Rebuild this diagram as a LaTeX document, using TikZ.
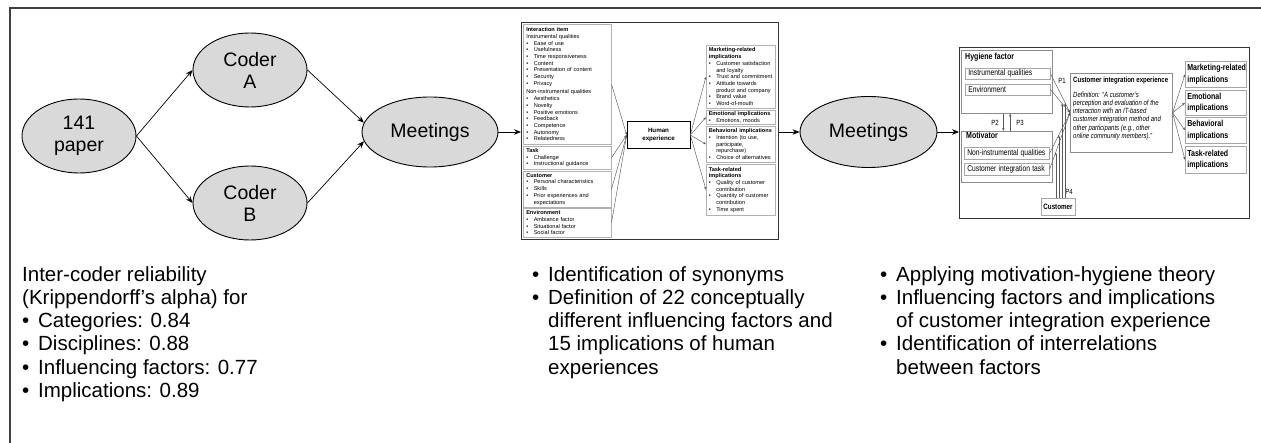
\documentclass[tikz,border=0pt]{standalone}
\usepackage{fontspec}
\usepackage{graphicx}
\setmainfont{Liberation Sans}
\usetikzlibrary{arrows.meta,shapes.geometric}

% bullets for the large captions and for the small boxes
\newcommand{\bulB}{\makebox[16pt][l]{\textbullet}}
\newcommand{\contB}{\hspace*{16pt}}
\newcommand{\bulS}{\makebox[7.5pt][l]{\textbullet}}
\newcommand{\contS}{\hspace*{7.5pt}}
% condensed lettering for the model on the right
\newcommand{\nar}[1]{\scalebox{0.8}[1]{#1}}

\tikzset{
  frameline/.style={draw=black!75, line width=1.1},
  blob/.style={ellipse, draw=black, line width=0.9, fill=black!15, align=center,
    inner sep=0, font=\fontsize{19.5}{22}\selectfont},
  flow/.style={draw=black, line width=0.7, -{Stealth[length=7,width=5.5]}},
  caption/.style={anchor=north west, inner sep=0, align=left,
    font=\fontsize{20.5}{23.3}\selectfont},
  panel/.style={draw=black!80, line width=1, anchor=north west, inner sep=0},
  smallbox/.style={draw=black!30, line width=0.5, anchor=north west, inner xsep=3,
    inner ysep=1, align=left, font=\fontsize{5.6}{6.7}\selectfont},
  tiny/.style={draw=black!65, line width=0.45, -{Stealth[length=3,width=2.4]}},
  groupbox/.style={draw=black!45, line width=0.6, anchor=north west, inner sep=0},
  factor/.style={draw=black!35, line width=0.6, anchor=north west, inner xsep=3,
    inner ysep=0, align=left, font=\fontsize{8.4}{10}\selectfont},
  grouptitle/.style={anchor=base west, inner sep=0,
    font=\bfseries\fontsize{8.8}{10}\selectfont},
  implbox/.style={draw=black!35, line width=0.6, anchor=north west, inner xsep=2,
    inner ysep=0, align=left, font=\bfseries\fontsize{8.8}{11.6}\selectfont},
  plabel/.style={inner sep=0, font=\fontsize{7.5}{8}\selectfont},
}

\begin{document}
\begin{tikzpicture}[x=1pt, y=-1pt]
\useasboundingbox (0,0) rectangle (1261,443);

% open frame along the top and left
\draw[frameline] (1261,8) -- (10,8) -- (10,443);

% ---------- coding process ----------
\node[blob, minimum width=114, minimum height=74] (paper) at (79,136) {141\\paper};
\node[blob, minimum width=114, minimum height=74] (coderA) at (250,70) {Coder\\A};
\node[blob, minimum width=114, minimum height=74] (coderB) at (250,203) {Coder\\B};
\node[blob, minimum width=136, minimum height=70] (meet1) at (430,132) {Meetings};

\draw[flow] (paper.east) -- (coderA.west);
\draw[flow] (paper.east) -- (coderB.west);
\draw[flow] (coderA.east) -- (meet1.172);
\draw[flow] (coderB.east) -- (meet1.188);

% ---------- human experience framework ----------
\node[panel, minimum width=257, minimum height=217] (mid) at (521,22) {};

\node[smallbox, text width=82, minimum height=120] (inter) at (523,24) {%
\textbf{Interaction item}\\
Instrumental qualities\\
\bulS Ease of use\\
\bulS Usefulness\\
\bulS Time responsiveness\\
\bulS Content\\
\bulS Presentation of content\\
\bulS Security\\
\bulS Privacy\\[2pt]
Non-instrumental qualities\\
\bulS Aesthetics\\
\bulS Novelty\\
\bulS Positive emotions\\
\bulS Feedback\\
\bulS Competence\\
\bulS Autonomy\\
\bulS Relatedness};

\node[smallbox, text width=82, minimum height=23] (task) at (523,146) {%
\textbf{Task}\\
\bulS Challenge\\
\bulS Instructional guidance};

\node[smallbox, text width=82, minimum height=36] (custm) at (523,171) {%
\textbf{Customer}\\
\bulS Personal characteristics\\
\bulS Skills\\
\bulS Prior experiences and\\
\contS expectations};

\node[smallbox, text width=82, minimum height=29] (envm) at (523,208) {%
\textbf{Environment}\\
\bulS Ambiance factor\\
\bulS Situational factor\\
\bulS Social factor};

\node[draw=black, line width=0.6, minimum width=63, minimum height=27, inner sep=0,
  align=center, font=\fontsize{6.2}{7.6}\selectfont\bfseries] (hum) at (658.5,135)
  {Human\\experience};

\node[smallbox, inner xsep=2.5, text width=64, minimum height=63] (mkt) at (706,45) {%
\textbf{Marketing-related}\\
\textbf{implications}\\
\bulS Customer satisfaction\\
\contS and loyalty\\
\bulS Trust and commitment\\
\bulS Attitude towards\\
\contS product and company\\
\bulS Brand value\\
\bulS Word-of-mouth};

\node[smallbox, inner xsep=2.5, text width=64, minimum height=14] (emo) at (706,110) {%
\textbf{Emotional implications}\\
\bulS Emotions, moods};

\node[smallbox, inner xsep=2.5, text width=64, minimum height=36] (beh) at (706,126) {%
\textbf{Behavioral implications}\\
\bulS Intention (to use,\\
\contS participate,\\
\contS repurchase)\\
\bulS Choice of alternatives};

\node[smallbox, inner xsep=2.5, text width=64, minimum height=51] (tsk) at (706,164) {%
\textbf{Task-related}\\
\textbf{implications}\\
\bulS Quality of customer\\
\contS contribution\\
\bulS Quantity of customer\\
\contS contribution\\
\bulS Time spent};

\foreach \src in {inter,task,custm,envm}
  \draw[tiny] (\src.east) -- (hum.west);
\foreach \dst in {mkt,emo,beh,tsk}
  \draw[tiny] (hum.east) -- (\dst.west);

\draw[flow] (meet1.east) -- (meet1.east -| mid.west);

% ---------- second round of meetings ----------
\node[blob, minimum width=137, minimum height=71] (meet2) at (868.5,132) {Meetings};
\draw[flow] (mid.east |- meet2.west) -- (meet2.west);

% ---------- customer integration experience model ----------
\node[panel, minimum width=290, minimum height=171] (rfr) at (959,47) {};
\draw[flow] (meet2.east) -- (meet2.east -| rfr.west);

\node[groupbox, minimum width=91, minimum height=63] (hyg) at (961,50) {};
\node[grouptitle] (hygt) at (965,60) {\nar{Hygiene factor}};
\node[factor, text width=79, minimum height=11] (insq) at (965,68) {\nar{Instrumental qualities}};
\node[factor, text width=79, minimum height=11] (envq) at (965,84) {\nar{Environment}};

\node[groupbox, minimum width=91, minimum height=51] (mot) at (961,131) {};
\node[grouptitle] (mott) at (966,139) {\nar{Motivator}};
\node[factor, text width=79, minimum height=12] (nonq) at (964,147) {\nar{Non-instrumental qualities}};
\node[factor, text width=79, minimum height=12] (citask) at (964,163) {\nar{Customer integration task}};

\draw[tiny] ([xshift=-3.5]hyg.south) -- ([xshift=-3.5]mot.north);
\draw[tiny] ([xshift=3.5]mot.north) -- ([xshift=3.5]hyg.south);
\node[plabel] (p2) at (995,123) {\nar{P2}};
\node[plabel] (p3) at (1020,123) {\nar{P3}};

\node[groupbox, minimum width=102, minimum height=79] (cie) at (1070,73) {};
\node[anchor=base west, inner sep=0,
  font=\bfseries\fontsize{7.6}{8}\selectfont] (ciet) at (1073,83)
  {\nar{Customer integration experience}};
\node[anchor=north west, inner sep=0, align=left,
  font=\itshape\fontsize{7.5}{8.1}\selectfont] (cied) at (1073,92)
  {\nar{Definition: “A customer’s}\\
   \nar{perception and evaluation of the}\\
   \nar{interaction with an IT-based}\\
   \nar{customer integration method and}\\
   \nar{other participants (e.g., other}\\
   \nar{online community members).”}};

\node[implbox, text width=57, minimum height=26] (rmkt) at (1185,61) {\nar{Marketing-related}\\\nar{implications}};
\node[implbox, text width=57, minimum height=25] (remo) at (1185,90) {\nar{Emotional}\\\nar{implications}};
\node[implbox, text width=57, minimum height=26] (rbeh) at (1185,117) {\nar{Behavioral}\\\nar{implications}};
\node[implbox, text width=57, minimum height=27] (rtsk) at (1185,146) {\nar{Task-related}\\\nar{implications}};

\foreach \dst in {rmkt,remo,rbeh,rtsk}
  \draw[tiny] (cie.east) -- (\dst.west);

\foreach \src in {insq,envq,nonq,citask}
  \draw[tiny] (\src.east) -- (cie.west);
\node[plabel] (p1) at (1062,81) {\nar{P1}};

\node[draw=black!35, line width=0.6, minimum width=34, minimum height=17, inner sep=0,
  font=\bfseries\fontsize{7.8}{9}\selectfont] (cust) at (1058,206.5) {\nar{Customer}};
\node[plabel] (p4) at (1069,192) {\nar{P4}};

% customer moderates each factor path
\path (insq.east) -- (cie.west) coordinate[pos=0.75] (m1);
\path (envq.east) -- (cie.west) coordinate[pos=0.6] (m2);
\path (nonq.east) -- (cie.west) coordinate[pos=0.45] (m3);
\path (citask.east) -- (cie.west) coordinate[pos=0.3] (m4);
\foreach \m in {m1,m2,m3,m4}
  \draw[tiny] (cust.north -| \m) -- (\m);

% ---------- captions ----------
\node[caption] (capA) at (22,266) {Inter-coder reliability\\
(Krippendorff’s alpha) for\\
\bulB Categories: 0.84\\
\bulB Disciplines: 0.88\\
\bulB Influencing factors: 0.77\\
\bulB Implications: 0.89};

\node[caption] (capB) at (532,266) {\bulB Identification of synonyms\\
\bulB Definition of 22 conceptually\\
\contB different influencing factors and\\
\contB 15 implications of human\\
\contB experiences};

\node[caption] (capC) at (880,266) {\bulB Applying motivation-hygiene theory\\
\bulB Influencing factors and implications\\
\contB of customer integration experience\\
\bulB Identification of interrelations\\
\contB between factors};
\end{tikzpicture}
\end{document}
